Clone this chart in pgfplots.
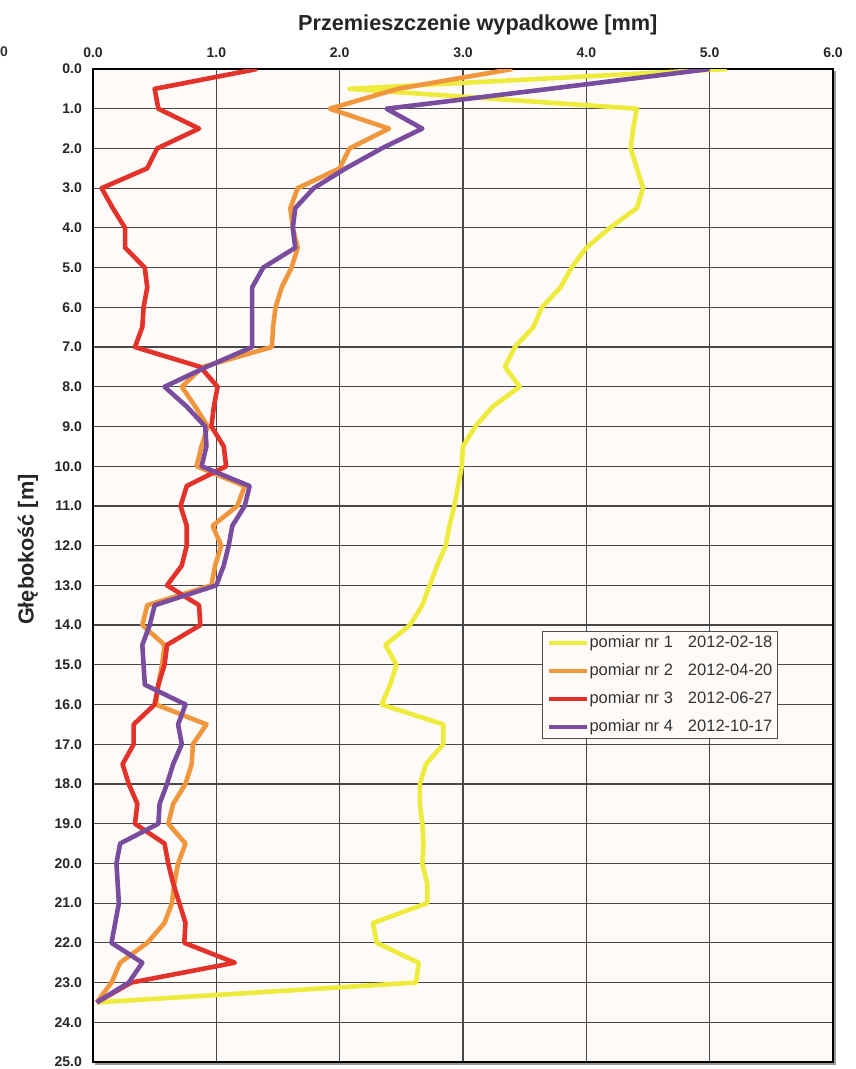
\documentclass[border=0pt]{standalone}
\usepackage{pgfplots}
\pgfplotsset{compat=1.18}
\usepackage{pgfplotstable}
\usepackage{fontspec}
\setmainfont{Liberation Sans}

\definecolor{pm1}{RGB}{238,235,60}
\definecolor{pm2}{RGB}{240,150,60}
\definecolor{pm3}{RGB}{226,50,42}
\definecolor{pm4}{RGB}{122,76,158}
\definecolor{plotbg}{RGB}{253,250,248}

% depth [m] and resultant displacement [mm] for the four surveys
\pgfplotstableread{
d    p1    p2    p3    p4
0.0  5.14  3.40  1.33  5.00
0.5  2.08  2.47  0.50  3.70
1.0  4.41  1.92  0.53  2.38
1.5  4.38  2.40  0.86  2.67
2.0  4.36  2.08  0.52  2.34
2.5  4.41  2.00  0.44  2.05
3.0  4.46  1.66  0.07  1.79
3.5  4.41  1.60  0.16  1.64
4.0  4.19  1.62  0.26  1.62
4.5  4.00  1.66  0.26  1.64
5.0  3.88  1.61  0.42  1.38
5.5  3.79  1.53  0.44  1.29
6.0  3.64  1.48  0.41  1.29
6.5  3.57  1.46  0.40  1.29
7.0  3.42  1.45  0.34  1.29
7.5  3.34  0.89  0.87  0.92
8.0  3.46  0.72  1.01  0.58
8.5  3.24  0.83  0.98  0.76
9.0  3.10  0.93  0.96  0.91
9.5  3.00  0.88  1.06  0.92
10.0 2.99  0.84  1.08  0.88
10.5 2.96  1.23  0.76  1.27
11.0 2.93  1.17  0.71  1.23
11.5 2.89  0.97  0.76  1.13
12.0 2.86  1.04  0.76  1.10
12.5 2.79  0.99  0.72  1.06
13.0 2.73  0.96  0.60  1.00
13.5 2.67  0.44  0.86  0.50
14.0 2.57  0.40  0.87  0.46
14.5 2.37  0.58  0.60  0.40
15.0 2.46  0.56  0.58  0.41
15.5 2.41  0.53  0.53  0.42
16.0 2.34  0.51  0.50  0.75
16.5 2.84  0.92  0.33  0.69
17.0 2.84  0.81  0.33  0.72
17.5 2.70  0.80  0.24  0.65
18.0 2.65  0.75  0.29  0.60
18.5 2.65  0.65  0.36  0.54
19.0 2.67  0.61  0.34  0.53
19.5 2.68  0.75  0.58  0.22
20.0 2.67  0.69  0.61  0.19
20.5 2.71  0.66  0.65  0.20
21.0 2.71  0.64  0.70  0.21
21.5 2.27  0.58  0.75  0.18
22.0 2.30  0.44  0.74  0.15
22.5 2.64  0.22  1.15  0.40
23.0 2.62  0.15  0.31  0.29
23.5 0.03  0.03  0.03  0.03
}\inklinometr

\begin{document}
\begin{tikzpicture}
\path[use as bounding box, fill=white] (-93pt,-7pt) rectangle (763pt,1062pt);
\node[anchor=base east, inner sep=0pt, font=\fontsize{14}{14}\selectfont\bfseries, text=black!80] at (-85pt,1005pt) {0};
\begin{axis}[
  name=main,
  at={(0pt,0pt)}, anchor=south west,
  scale only axis, width=740pt, height=993pt,
  xmin=0, xmax=6, ymin=0, ymax=25,
  y dir=reverse,
  xtick={0,1,...,6}, ytick={0,1,...,25},
  xticklabel pos=upper,
  major tick length=0pt,
  grid=major,
  major grid style={line width=1.2pt, color=black!72},
  axis line style={line width=2.6pt, black},
  axis background/.style={fill=plotbg},
  /pgf/number format/assume math mode=true,
  /pgf/number format/fixed,
  /pgf/number format/fixed zerofill,
  /pgf/number format/precision=1,
  ticklabel style={font=\fontsize{14}{14}\selectfont\bfseries, inner sep=0pt, text=black!85},
  xticklabel style={anchor=base, yshift=12pt},
  yticklabel style={anchor=east, xshift=-11pt},
  xlabel={Przemieszczenie wypadkowe [mm]},
  xlabel style={at={(axis description cs:0.52,1)}, anchor=base, yshift=39pt,
    inner sep=0pt, font=\fontsize{21.7}{22}\selectfont\bfseries, text=black!85},
  ylabel={Głębokość [m]},
  ylabel style={at={(axis description cs:-0.088,0.516)}, anchor=center,
    inner sep=0pt, font=\fontsize{21.7}{22}\selectfont\bfseries, text=black!85},
  legend cell align=left,
  legend image code/.code={\draw[#1, line width=4pt, line cap=butt] (0pt,0pt) -- (38pt,0pt);},
  legend style={at={(axis description cs:0.607,0.434)}, anchor=north west,
    draw=black!70, line width=0.8pt, fill=plotbg,
    font=\fontsize{16.5}{18}\selectfont, text=black!80,
    inner xsep=4pt, inner ysep=3pt, row sep=11pt,
    nodes={inner sep=1pt, text height=12pt, text depth=3pt}},
  every axis plot/.append style={line width=4.6pt, line join=round},
]
\addplot[color=pm1] table[x=p1, y=d] {\inklinometr};
\addlegendentry{pomiar nr 1\hspace{15pt}2012-02-18}
\addplot[color=pm2] table[x=p2, y=d] {\inklinometr};
\addlegendentry{pomiar nr 2\hspace{15pt}2012-04-20}
\addplot[color=pm3] table[x=p3, y=d] {\inklinometr};
\addlegendentry{pomiar nr 3\hspace{15pt}2012-06-27}
\addplot[color=pm4] table[x=p4, y=d] {\inklinometr};
\addlegendentry{pomiar nr 4\hspace{15pt}2012-10-17}
\end{axis}
\draw[black!40, line width=2pt]
  ([xshift=2.4pt,yshift=-2.4pt]main.south west) --
  ([xshift=2.4pt,yshift=-2.4pt]main.south east) --
  ([xshift=2.4pt,yshift=-2.4pt]main.north east);
\end{tikzpicture}
\end{document}
